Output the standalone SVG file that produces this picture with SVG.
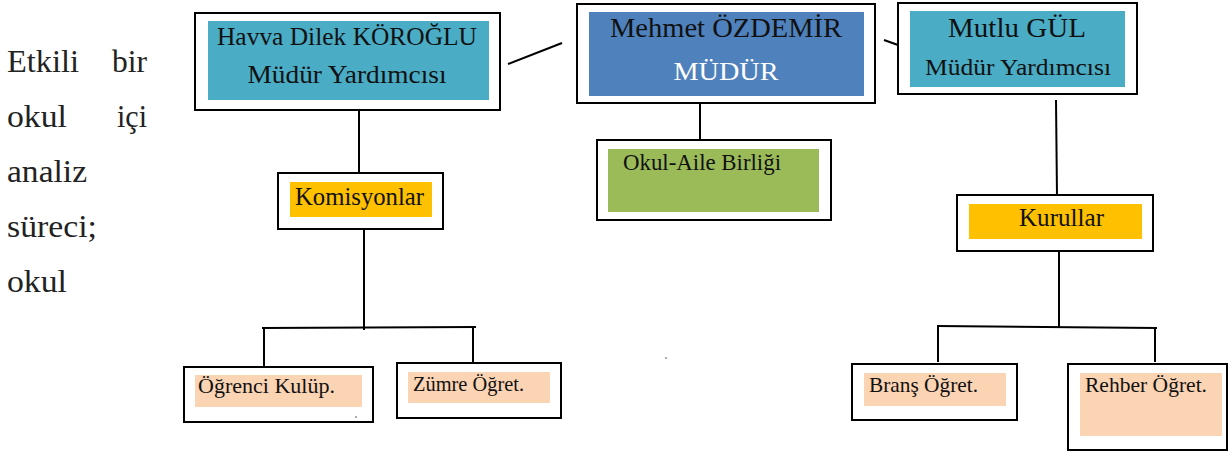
<svg xmlns="http://www.w3.org/2000/svg" width="1230" height="452" viewBox="0 0 1230 452">
<style>
.frame{fill:#fff;stroke:#000;stroke-width:2}
.t{font-family:"Liberation Serif","Times New Roman",serif;fill:#111}
.side{font-family:"Liberation Serif","Times New Roman",serif;fill:#222;font-size:32px}
.con{stroke:#000;stroke-width:2;fill:none}
.teal{fill:#4BACC6}
.blue{fill:#4F81BD}
.green{fill:#9BBB59}
.gold{fill:#FFC000}
.peach{fill:#FBD4B4}
</style>
<rect width="1230" height="452" fill="#fff"/>
<g id="side-text">
<text class="side" x="7" y="72" textLength="72" lengthAdjust="spacingAndGlyphs">Etkili</text>
<text class="side" x="112" y="72" textLength="35" lengthAdjust="spacingAndGlyphs">bir</text>
<text class="side" x="7" y="127" textLength="60" lengthAdjust="spacingAndGlyphs">okul</text>
<text class="side" x="117" y="127" textLength="30" lengthAdjust="spacingAndGlyphs">içi</text>
<text class="side" x="7" y="182" textLength="80" lengthAdjust="spacingAndGlyphs">analiz</text>
<text class="side" x="7" y="237" textLength="90" lengthAdjust="spacingAndGlyphs">süreci;</text>
<text class="side" x="7" y="292" textLength="60" lengthAdjust="spacingAndGlyphs">okul</text>
</g>
<g id="connectors">
<line class="con" x1="508" y1="64" x2="562" y2="43"/>
<line class="con" x1="884" y1="40" x2="898" y2="45"/>
<line class="con" x1="700" y1="98" x2="700" y2="147"/>
<line class="con" x1="359" y1="110" x2="359" y2="180"/>
<line class="con" x1="364" y1="229" x2="364" y2="330"/>
<line class="con" x1="262" y1="328" x2="476" y2="327"/>
<line class="con" x1="264" y1="328" x2="264" y2="366"/>
<line class="con" x1="473" y1="327" x2="473" y2="362"/>
<line class="con" x1="1056" y1="100" x2="1057" y2="197"/>
<line class="con" x1="1059" y1="237" x2="1059" y2="327"/>
<line class="con" x1="937" y1="326" x2="1157" y2="328"/>
<line class="con" x1="938" y1="326" x2="938" y2="362"/>
<line class="con" x1="1155" y1="327" x2="1155" y2="362"/>
</g>
<g id="havva">
<rect class="frame" x="195" y="13" width="305" height="97"/>
<rect class="teal" x="208" y="21" width="281" height="79"/>
<text class="t" x="347" y="45" font-size="26" text-anchor="middle" textLength="260" lengthAdjust="spacingAndGlyphs">Havva Dilek KÖROĞLU</text>
<text class="t" x="347" y="83" font-size="26" text-anchor="middle" textLength="199" lengthAdjust="spacingAndGlyphs">Müdür Yardımcısı</text>
</g>
<g id="mehmet">
<rect class="frame" x="577" y="4" width="298" height="99"/>
<rect class="blue" x="589" y="12" width="275" height="84"/>
<text class="t" x="726" y="37" font-size="27" text-anchor="middle" textLength="232" lengthAdjust="spacingAndGlyphs">Mehmet ÖZDEMİR</text>
<text class="t" x="726" y="80" font-size="26" text-anchor="middle" textLength="105" lengthAdjust="spacingAndGlyphs" style="fill:#fff">MÜDÜR</text>
</g>
<g id="mutlu">
<rect class="frame" x="898" y="3" width="239" height="91"/>
<rect class="teal" x="910" y="11" width="215" height="76"/>
<text class="t" x="1017" y="37" font-size="28" text-anchor="middle" textLength="138" lengthAdjust="spacingAndGlyphs">Mutlu GÜL</text>
<text class="t" x="1018" y="75" font-size="24" text-anchor="middle" textLength="186" lengthAdjust="spacingAndGlyphs">Müdür Yardımcısı</text>
</g>
<g id="okul-aile">
<rect class="frame" x="597" y="140" width="234" height="80"/>
<rect class="green" x="608" y="149" width="211" height="63"/>
<text class="t" x="623" y="170" font-size="23" textLength="158" lengthAdjust="spacingAndGlyphs">Okul-Aile Birliği</text>
</g>
<g id="komisyonlar">
<rect class="frame" x="278" y="173" width="165" height="56"/>
<rect class="gold" x="290" y="182" width="142" height="35"/>
<text class="t" x="295" y="205" font-size="25" textLength="129" lengthAdjust="spacingAndGlyphs">Komisyonlar</text>
</g>
<g id="kurullar">
<rect class="frame" x="957" y="195" width="196" height="56"/>
<rect class="gold" x="969" y="204" width="173" height="35"/>
<text class="t" x="1019" y="226" font-size="25" textLength="85" lengthAdjust="spacingAndGlyphs">Kurullar</text>
</g>
<g id="ogrenci">
<rect class="frame" x="184" y="367" width="189" height="55"/>
<rect class="peach" x="195" y="375" width="167" height="32"/>
<text class="t" x="198" y="393" font-size="22" textLength="137" lengthAdjust="spacingAndGlyphs">Öğrenci Kulüp.</text>
</g>
<g id="zumre">
<rect class="frame" x="397" y="363" width="164" height="55"/>
<rect class="peach" x="408" y="372" width="142" height="31"/>
<text class="t" x="413" y="391" font-size="22" textLength="111" lengthAdjust="spacingAndGlyphs">Zümre Öğret.</text>
</g>
<g id="brans">
<rect class="frame" x="852" y="364" width="165" height="56"/>
<rect class="peach" x="864" y="373" width="142" height="33"/>
<text class="t" x="869" y="392" font-size="22" textLength="109" lengthAdjust="spacingAndGlyphs">Branş Öğret.</text>
</g>
<g id="rehber">
<rect class="frame" x="1068" y="364" width="159" height="86"/>
<rect class="peach" x="1080" y="373" width="142" height="63"/>
<text class="t" x="1085" y="392" font-size="22" textLength="122" lengthAdjust="spacingAndGlyphs">Rehber Öğret.</text>
</g>
<circle cx="356" cy="417" r="0.8" fill="#444"/>
<circle cx="666" cy="358" r="0.8" fill="#444"/>
</svg>
